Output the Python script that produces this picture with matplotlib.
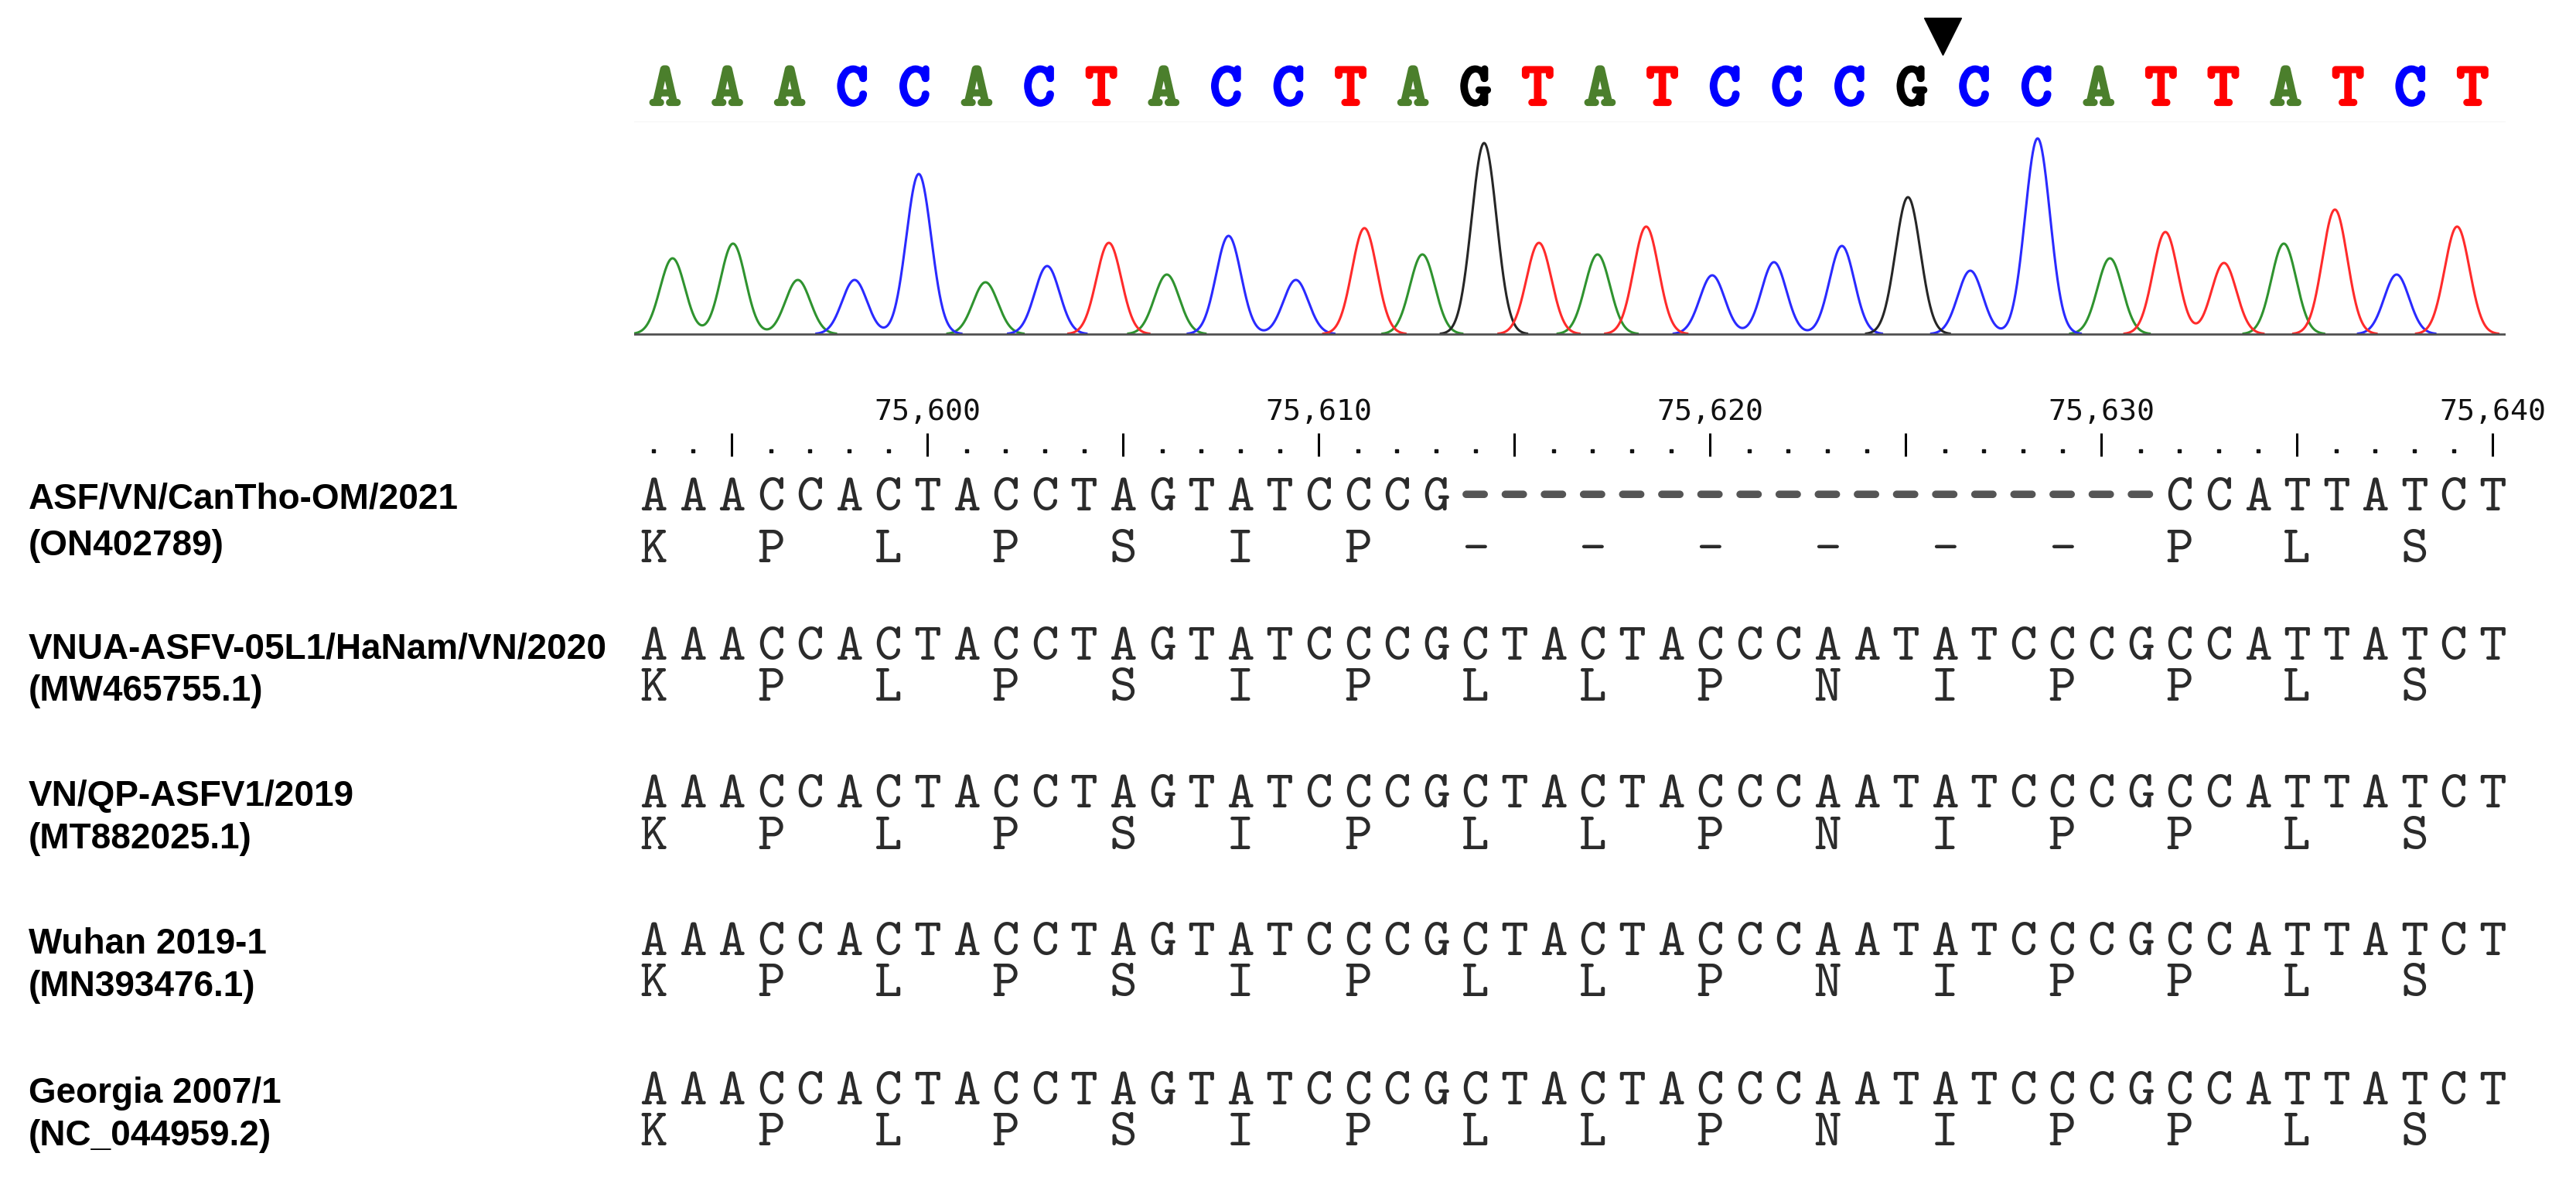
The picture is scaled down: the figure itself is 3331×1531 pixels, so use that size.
import matplotlib.pyplot as plt
import matplotlib.patheffects as pe
import numpy as np


# base calls of the sequencing trace and their peaks (x in base-call units)
BASE_CALLS = "AAACCACTACCTAGTATCCCGCCATTATCT"
PEAK_POS = [0.12, 1.09, 2.13, 3.04, 4.07, 5.14, 6.13, 7.12, 8.05, 9.04,
            10.12, 11.22, 12.15, 13.14, 14.02, 14.96, 15.74, 16.80, 17.79, 18.88,
            19.94, 20.94, 22.02, 23.18, 24.07, 25.01, 25.97, 26.79, 27.78, 28.75]
PEAK_HEIGHT = [98, 117, 70, 70, 207, 67, 88, 118, 77, 127,
               70, 137, 103, 247, 118, 103, 139, 76, 93, 114,
               177, 82, 253, 98, 132, 92, 117, 161, 77, 139]
DELETION_SITE = 20.5

# alignment
SEQ_START = 75593
NAMES = ["ASF/VN/CanTho-OM/2021", "VNUA-ASFV-05L1/HaNam/VN/2020",
         "VN/QP-ASFV1/2019", "Wuhan 2019-1", "Georgia 2007/1"]
ACCESSIONS = ["(ON402789)", "(MW465755.1)", "(MT882025.1)",
              "(MN393476.1)", "(NC_044959.2)"]
SEQUENCES = [
    "AAACCACTACCTAGTATCCCG------------------CCATTATCT",
    "AAACCACTACCTAGTATCCCGCTACTACCCAATATCCCGCCATTATCT",
    "AAACCACTACCTAGTATCCCGCTACTACCCAATATCCCGCCATTATCT",
    "AAACCACTACCTAGTATCCCGCTACTACCCAATATCCCGCCATTATCT",
    "AAACCACTACCTAGTATCCCGCTACTACCCAATATCCCGCCATTATCT",
]
PROTEINS = ["KPLPSIP------PLS", "KPLPSIPLLPNIPPLS", "KPLPSIPLLPNIPPLS",
            "KPLPSIPLLPNIPPLS", "KPLPSIPLLPNIPPLS"]

CALL_COLORS = {"A": "#4b7f2c", "C": "#0000ff", "G": "#000000", "T": "#ff0000"}
TRACE_COLORS = {"A": "#2f932f", "C": "#2a2aff", "G": "#262626", "T": "#ff2b2b"}

W, H = 3331, 1531
SEQ_FONT = "cmtt10"
SEQ_SIZE = 49

fig = plt.figure(figsize=(W / 100, H / 100), dpi=100)

# ---- chromatogram ----
ax_c = fig.add_axes([820 / W, 1 - 450 / H, 2420 / W, 450 / H])
xc0, xc1 = (820 - 860) / 80.6, (3240 - 860) / 80.6
ax_c.set_xlim(xc0, xc1)
ax_c.set_ylim(-18, 432)
ax_c.axis("off")

xs = np.linspace(xc0, xc1, 5000)
sigma = 0.2
calls = np.array(list(BASE_CALLS))
pos = np.array(PEAK_POS)
hts = np.array(PEAK_HEIGHT, dtype=float)
for base in "ACGT":
    sel = calls == base
    ys = (hts[sel][:, None] * np.exp(-0.5 * ((xs[None, :] - pos[sel][:, None]) / sigma) ** 2)).sum(axis=0)
    ys[ys < 0.6] = np.nan
    ax_c.plot(xs, ys, color=TRACE_COLORS[base], lw=2.2, solid_joinstyle="miter")

ax_c.axhline(0, color="#505050", lw=2.0)
ax_c.axhline(275, color="#f7f7f7", lw=1.0)

for i, b in enumerate(BASE_CALLS):
    ax_c.text(i, 297, b, family=SEQ_FONT, fontsize=56, color=CALL_COLORS[b],
              ha="center", va="baseline",
              path_effects=[pe.withStroke(linewidth=3.0, foreground=CALL_COLORS[b])])

ax_c.plot([DELETION_SITE], [385], marker="v", ms=34, color="black", lw=0)

# ---- alignment ----
ax_a = fig.add_axes([0, 0, 1, 1 - 470 / H])
ax_a.set_xlim((0 - 845) / 50.6, (W - 845) / 50.6)
ax_a.set_ylim(H, 470)
ax_a.axis("off")

n_cols = len(SEQUENCES[0])
positions = SEQ_START + np.arange(n_cols)
tick_cols = np.where(positions % 5 == 0)[0]
dot_cols = np.where(positions % 5 != 0)[0]
ax_a.vlines(tick_cols, 560, 590, color="black", lw=2.2)
ax_a.plot(dot_cols, np.full(len(dot_cols), 583), "s", ms=2.8, color="#111111", lw=0)
for j in np.where(positions % 10 == 0)[0]:
    ax_a.text(j, 543, f"{positions[j]:,}", family="DejaVu Sans Mono", fontsize=27.5,
              ha="center", va="baseline", color="#111111")

seq_y = [660, 853, 1044, 1235, 1428]
prot_y = [727, 906, 1098, 1288, 1481]
name2_y = [718, 906, 1097, 1288, 1481]
ytr = ax_a.get_yaxis_transform()

for r in range(len(SEQUENCES)):
    ax_a.text(37 / W, seq_y[r] - 2, NAMES[r], transform=ytr, family="Liberation Sans",
              fontweight="bold", fontsize=33, ha="left", va="baseline", color="black")
    ax_a.text(37 / W, name2_y[r], ACCESSIONS[r], transform=ytr, family="Liberation Sans",
              fontweight="bold", fontsize=33, ha="left", va="baseline", color="black")
    for j, ch in enumerate(SEQUENCES[r]):
        if ch == "-":
            ax_a.text(j, seq_y[r], ch, family=SEQ_FONT, fontsize=SEQ_SIZE, color="#555555",
                      ha="center", va="baseline",
                      path_effects=[pe.withStroke(linewidth=3.5, foreground="#555555")])
        else:
            ax_a.text(j, seq_y[r], ch, family=SEQ_FONT, fontsize=SEQ_SIZE, color="#2b2b2b",
                      ha="center", va="baseline")
    for k, aa in enumerate(PROTEINS[r]):
        ax_a.text(3 * k, prot_y[r], aa, family=SEQ_FONT, fontsize=SEQ_SIZE, color="#2b2b2b",
                  ha="center", va="baseline")

fig.savefig("out.png", dpi=100)
